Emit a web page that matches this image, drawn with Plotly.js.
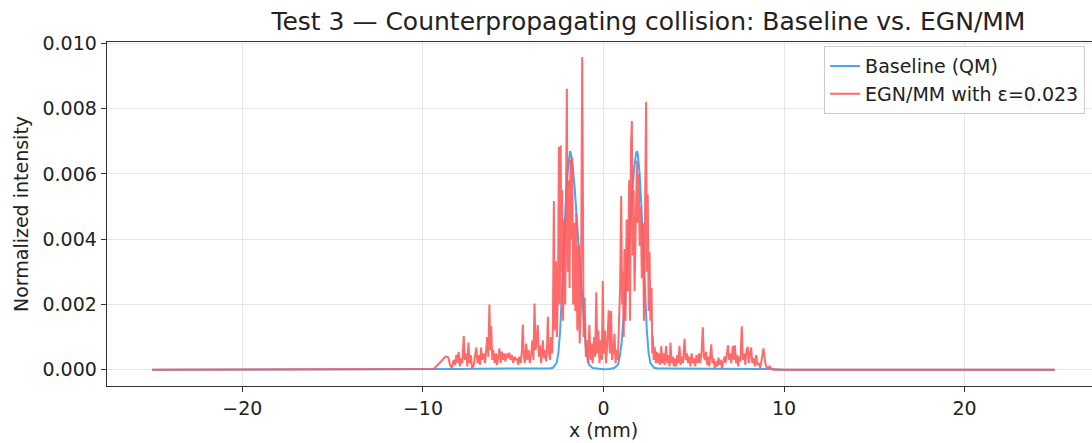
<!DOCTYPE html>
<html>
<head>
<meta charset="utf-8">
<script src="https://cdn.plot.ly/plotly-3.0.1.min.js"></script>
<style>
html,body{margin:0;padding:0;overflow:hidden;background:#fff;}
#chart{width:1100px;height:443px;}
</style>
</head>
<body>
<div id="chart"></div>
<script>
// Baseline (QM): x in mm, intensity in units of 1e-3
const baseX = [-25,-10,-9.5,-9,-8,-7,-6,-5,-4,-3.4,-3.0,-2.8,-2.6,-2.5,-2.4,-2.3,-2.2,-2.1,-2.0,-1.9,-1.85,-1.8,-1.7,-1.6,-1.5,-1.4,-1.3,-1.2,-1.1,-1.0,-0.9,-0.8,-0.6,-0.3,0,
  0.3,0.6,0.8,0.9,1.0,1.1,1.2,1.3,1.4,1.5,1.6,1.7,1.8,1.85,1.9,2.0,2.1,2.2,2.3,2.4,2.5,2.6,2.8,3.0,3.4,4,5,6,7,8,9,9.5,10,25];
const baseY = [0,0,0.01,0.02,0.02,0.03,0.03,0.04,0.04,0.04,0.04,0.06,0.2,0.5,1.2,2.4,3.8,5.0,6.0,6.6,6.7,6.6,6.2,5.6,4.8,4.0,3.2,2.2,1.4,0.8,0.4,0.15,0.05,0.02,0.01,
  0.02,0.05,0.15,0.4,0.8,1.4,2.2,3.2,4.0,4.8,5.6,6.2,6.6,6.7,6.6,6.0,5.0,3.8,2.4,1.2,0.5,0.2,0.06,0.04,0.04,0.04,0.04,0.03,0.03,0.02,0.02,0.01,0,0];

// EGN/MM with eps=0.023: x in mm, intensity in units of 1e-3
const egnX = [-25,-9.5,-9.4,-9.3,-9.1,-8.9,-8.75,-8.6,-8.5,-8.4,-8.3,-8.22,-8.15,-8.08,-8.02,-7.95,-7.9,-7.82,-7.74,-7.68,-7.6,-7.54,-7.48,-7.42,-7.35,-7.28,-7.2,-7.12,-7.04,-6.98,-6.9,-6.84,-6.78,-6.72,-6.64,-6.56,-6.5,-6.44,-6.38,-6.32,-6.27,-6.22,-6.16,-6.1,-6.03,-5.96,-5.9,-5.82,-5.76,-5.7,-5.63,-5.56,-5.5,-5.43,-5.36,-5.3,-5.22,-5.15,-5.08,-5.0,-4.93,-4.86,-4.8,-4.72,-4.66,-4.58,-4.52,-4.47,-4.42,-4.36,-4.28,-4.22,-4.15,-4.08,-4.0,-3.94,-3.88,-3.82,-3.76,-3.7,-3.64,-3.58,-3.52,-3.45,-3.36,-3.3,-3.24,-3.18,-3.12,-3.08,-3.02,-2.96,-2.9,-2.84,-2.8,-2.75,-2.7,-2.63,-2.58,-2.52,-2.47,-2.42,-2.37,-2.33,-2.29,-2.24,-2.18,-2.12,-2.08,-2.03,-1.98,-1.93,-1.88,-1.83,-1.78,-1.73,-1.68,-1.62,-1.56,-1.51,-1.45,-1.37,-1.32,-1.25,-1.18,-1.14,-1.1,-1.04,-0.98,-0.92,-0.86,-0.78,-0.72,-0.66,-0.6,-0.52,-0.46,-0.4,-0.34,-0.28,-0.22,-0.15,-0.09,-0.04,0.02,0.08,0.14,0.2,0.29,0.35,0.42,0.48,0.55,0.61,0.67,0.74,0.8,0.86,0.92,0.98,1.03,1.08,1.12,1.16,1.22,1.28,1.35,1.42,1.47,1.52,1.57,1.62,1.67,1.72,1.78,1.85,1.9,1.95,2.0,2.06,2.12,2.18,2.24,2.3,2.36,2.4,2.45,2.5,2.55,2.6,2.66,2.7,2.73,2.78,2.83,2.9,2.96,3.02,3.08,3.14,3.2,3.26,3.32,3.38,3.47,3.53,3.6,3.66,3.71,3.77,3.84,3.9,3.96,4.02,4.08,4.14,4.21,4.27,4.33,4.4,4.49,4.55,4.62,4.68,4.75,4.82,4.88,4.95,5.02,5.08,5.15,5.22,5.3,5.36,5.44,5.5,5.56,5.62,5.68,5.74,5.8,5.86,5.92,5.97,6.03,6.1,6.16,6.22,6.3,6.37,6.43,6.5,6.56,6.62,6.7,6.76,6.83,6.9,6.96,7.02,7.08,7.16,7.22,7.28,7.34,7.4,7.46,7.52,7.58,7.66,7.72,7.8,7.86,7.92,7.99,8.05,8.11,8.18,8.24,8.3,8.38,8.46,8.52,8.6,8.68,8.76,8.86,8.94,9.0,9.1,9.2,9.3,9.4,25];
const egnY = [0,0,0.02,0.08,0.2,0.32,0.4,0.38,0.15,0.05,0.3,0.15,0.45,0.2,0.55,0.1,0.35,0.2,1.03,0.3,0.5,0.1,0.83,0.2,0.45,0.05,0.1,0.4,0.68,0.2,0.45,0.15,0.68,0.3,0.5,0.2,0.55,1.0,0.4,2.0,0.6,1.33,0.3,0.6,0.2,0.5,0.15,0.45,0.65,0.2,0.55,0.3,0.5,0.25,0.5,0.35,0.52,0.3,0.45,0.2,0.4,0.3,0.35,0.15,0.4,0.2,0.6,1.38,0.5,0.2,0.8,0.3,0.6,0.2,0.5,0.9,0.3,2.03,0.6,0.9,1.37,0.4,0.75,0.2,0.9,0.35,0.6,0.25,0.8,1.63,0.5,0.3,1.0,0.5,1.5,5.17,1.2,3.32,1.0,2.5,6.82,2.0,6.87,3.0,5.5,1.5,4.6,2.0,7.0,8.61,3.0,5.8,2.5,6.43,4.0,6.5,2.0,4.5,1.8,4.8,1.2,3.82,0.8,2.0,9.58,3.2,1.0,2.2,0.4,0.9,0.2,1.37,0.3,0.8,0.2,1.0,0.4,2.37,0.5,1.2,0.2,0.9,0.3,2.72,0.5,1.2,0.2,0.7,1.82,0.5,1.8,0.3,0.6,1.1,0.2,0.6,0.3,1.5,2.5,5.32,2.0,3.0,1.0,3.7,1.5,4.6,2.4,5.8,1.5,6.8,7.62,3.5,5.5,2.4,5.0,6.4,4.5,6.0,3.8,5.0,2.8,4.5,1.5,5.2,8.2,3.0,5.37,1.8,3.6,1.5,2.5,0.5,1.03,0.3,0.7,0.2,0.55,0.2,0.5,0.15,0.72,0.2,0.5,0.15,0.72,0.2,0.45,0.1,0.83,0.2,0.4,0.1,0.35,0.1,0.45,0.2,0.73,0.15,0.4,0.2,0.95,0.3,0.5,0.2,0.4,0.1,0.5,0.2,0.35,0.1,0.45,0.2,0.5,0.2,0.6,1.3,0.4,0.3,0.55,0.15,0.4,0.1,0.5,0.78,0.2,0.35,0.05,0.25,0.1,0.37,0.15,0.3,0.05,0.25,0.4,0.2,0.5,0.75,0.3,0.5,0.2,0.73,0.3,0.75,0.2,0.45,0.1,0.4,0.25,1.33,0.3,0.5,0.15,0.6,0.7,0.2,0.45,0.68,0.2,0.35,0.1,0.45,0.15,0.2,0.05,0.3,0.65,0.3,0.1,0.05,0.1,0.03,0,0];

const yTicks = [0, 0.002, 0.004, 0.006, 0.008, 0.010];
const xTicks = [-20, -10, 0, 10, 20];

const toAbs = a => a.map(v => v / 1000);

const traces = [
  {x: baseX, y: toAbs(baseY), type: 'scatter', mode: 'lines', name: 'Baseline (QM)',
   line: {color: '#4aa6f2', width: 2}},
  {x: egnX, y: toAbs(egnY), type: 'scatter', mode: 'lines', name: 'EGN/MM with ε=0.023',
   line: {color: 'rgba(255,90,90,0.9)', width: 2}}
];

const axisFont = {family: 'DejaVu Sans', size: 19, color: '#222'};
const layout = {
  width: 1100, height: 443,
  margin: {l: 107, r: 0, t: 42, b: 57},
  paper_bgcolor: '#fff', plot_bgcolor: '#fff',
  font: {family: 'DejaVu Sans', size: 19, color: '#222'},
  title: {text: 'Test 3 — Counterpropagating collision: Baseline vs. EGN/MM',
          font: {family: 'DejaVu Sans', size: 25, color: '#222'},
          xref: 'container', x: 0.5895, xanchor: 'center', yref: 'container', y: 0.953, yanchor: 'middle'},
  xaxis: {range: [-27.5, 27.5], tickvals: xTicks, ticks: 'outside', ticklen: 5, tickcolor: '#333',
          showline: true, linecolor: '#333', linewidth: 1.3, mirror: true,
          showgrid: true, gridcolor: '#e6e6e6', zeroline: false, tickfont: axisFont,
          title: {text: 'x (mm)', font: axisFont, standoff: 2}},
  yaxis: {range: [-0.0005, 0.01004], tickvals: yTicks, tickformat: '.3f', ticks: 'outside', ticklen: 5, tickcolor: '#333',
          showline: true, linecolor: '#333', linewidth: 1.3, mirror: true,
          showgrid: true, gridcolor: '#e6e6e6', zeroline: false, tickfont: axisFont,
          title: {text: 'Normalized intensity', font: axisFont, standoff: 8}},
  legend: {x: 0.985, xanchor: 'right', y: 0.988, yanchor: 'top',
           bgcolor: 'rgba(255,255,255,0.85)', bordercolor: '#cccccc', borderwidth: 1,
           font: {family: 'DejaVu Sans', size: 19, color: '#222'}},
  showlegend: true
};

Plotly.newPlot('chart', traces, layout, {displayModeBar: false, staticPlot: true});
</script>
</body>
</html>
